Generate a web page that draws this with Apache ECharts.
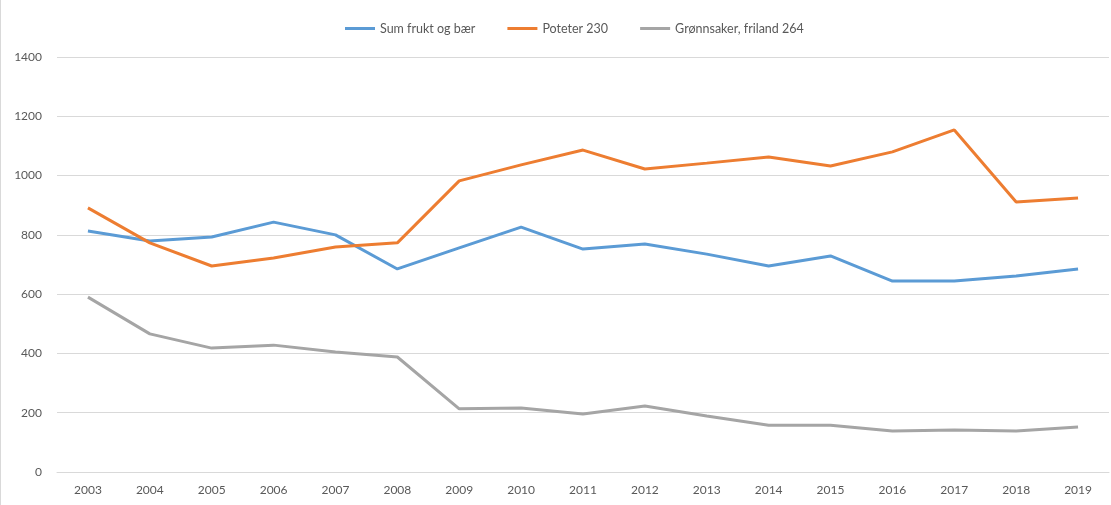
<!DOCTYPE html>
<html>
<head>
<meta charset="utf-8">
<script src="https://cdn.jsdelivr.net/npm/echarts@6/dist/echarts.min.js"></script>
<style>
  html, body { margin: 0; padding: 0; background: #fff; }
  #main { width: 1111px; height: 505px; }
</style>
</head>
<body>
<div id="main"></div>
<script>
const years = ['2003','2004','2005','2006','2007','2008','2009','2010','2011','2012','2013','2014','2015','2016','2017','2018','2019'];
const frukt = [813, 779, 793, 843, 800, 685, 756, 826, 752, 769, 735, 695, 729, 644, 644, 661, 685];
const poteter = [891, 773, 695, 722, 759, 773, 982, 1036, 1086, 1022, 1042, 1063, 1032, 1080, 1154, 911, 924];
const gronnsaker = [590, 466, 418, 428, 405, 388, 213, 216, 196, 223, 189, 158, 158, 138, 142, 138, 152];

const chart = echarts.init(document.getElementById('main'));
const font = 'Lato, "Open Sans", sans-serif';
chart.setOption({
  animation: false,
  textStyle: { fontFamily: font },
  legend: {
    top: 17,
    left: 340,
    itemWidth: 30,
    itemHeight: 3,
    itemGap: 32,
    icon: 'rect',
    textStyle: { color: '#595959', fontSize: 12.5, fontFamily: font },
    data: ['Sum frukt og bær', 'Poteter 230', 'Grønnsaker, friland 264']
  },
  grid: { left: 57, right: 2, top: 57, bottom: 33 },
  xAxis: {
    type: 'category',
    data: years,
    axisLine: { lineStyle: { color: '#D9D9D9', width: 1 } },
    axisTick: { show: false },
    axisLabel: { color: '#595959', fontSize: 12, margin: 12 }
  },
  yAxis: {
    type: 'value',
    min: 0,
    max: 1400,
    interval: 200,
    axisLine: { show: false },
    axisTick: { show: false },
    axisLabel: { color: '#595959', fontSize: 12, margin: 15, formatter: v => String(v) },
    splitLine: { lineStyle: { color: '#D9D9D9', width: 1 } }
  },
  graphic: [{
    type: 'line',
    shape: { x1: 0.5, y1: 0, x2: 0.5, y2: 505 },
    style: { stroke: '#D9D9D9', lineWidth: 1 }
  }],
  series: [
    { name: 'Sum frukt og bær', type: 'line', data: frukt, symbol: 'none',
      lineStyle: { color: '#5B9BD5', width: 3 }, itemStyle: { color: '#5B9BD5' } },
    { name: 'Poteter 230', type: 'line', data: poteter, symbol: 'none',
      lineStyle: { color: '#ED7D31', width: 3 }, itemStyle: { color: '#ED7D31' } },
    { name: 'Grønnsaker, friland 264', type: 'line', data: gronnsaker, symbol: 'none',
      lineStyle: { color: '#A5A5A5', width: 3 }, itemStyle: { color: '#A5A5A5' } }
  ]
});
</script>
</body>
</html>
